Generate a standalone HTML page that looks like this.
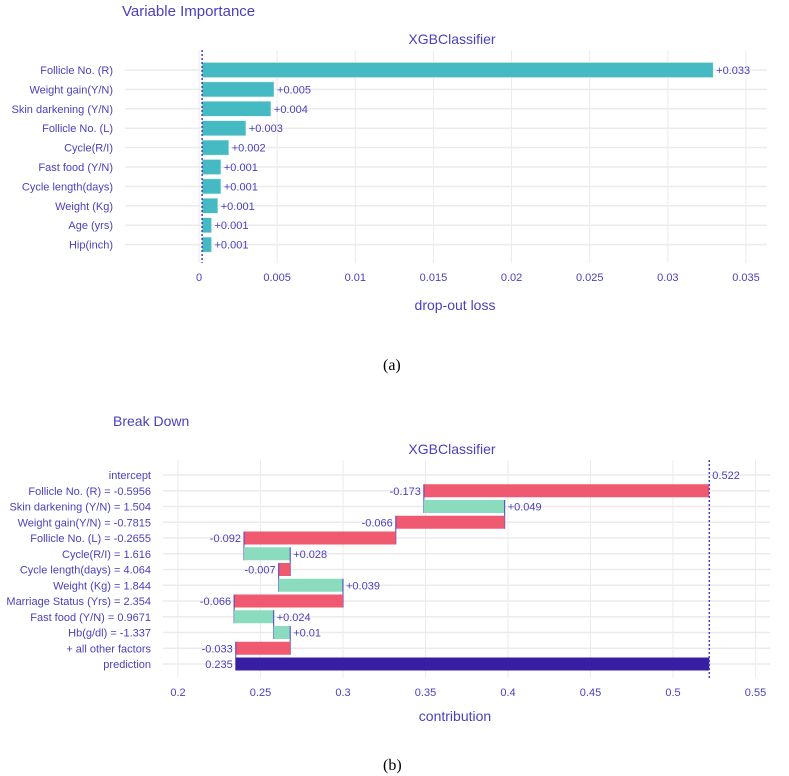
<!DOCTYPE html>
<html><head><meta charset="utf-8">
<style>
html,body{margin:0;padding:0;background:#fff;}
body{width:789px;height:776px;overflow:hidden;position:relative;font-family:"Liberation Sans","DejaVu Sans",sans-serif;}
svg{position:absolute;left:0;top:0;}
.cap{position:absolute;font-family:"Liberation Serif",serif;font-size:16px;color:#000;}
</style></head>
<body>
<svg id="s" width="789" height="776"></svg>
<div class="cap" style="left:383px;top:357px">(a)</div>
<div class="cap" style="left:383px;top:757px">(b)</div>
<script>
// ---- Chart A data ----
const viNames = ["Follicle No. (R)","Weight gain(Y/N)","Skin darkening (Y/N)","Follicle No. (L)","Cycle(R/I)","Fast food (Y/N)","Cycle length(days)","Weight (Kg)","Age (yrs)","Hip(inch)"];
const viBaseline = 0.0002;
const viLoss = [0.0329,0.0048,0.0046,0.0030,0.0019,0.0014,0.0014,0.0012,0.0008,0.0008];
const viLabels = ["+0.033","+0.005","+0.004","+0.003","+0.002","+0.001","+0.001","+0.001","+0.001","+0.001"];
const viTicks = [0,0.005,0.01,0.015,0.02,0.025,0.03,0.035];
const viTickLabels = ["0","0.005","0.01","0.015","0.02","0.025","0.03","0.035"];
// ---- Chart B data ----
const bdNames = ["intercept","Follicle No. (R) = -0.5956","Skin darkening (Y/N) = 1.504","Weight gain(Y/N) = -0.7815","Follicle No. (L) = -0.2655","Cycle(R/I) = 1.616","Cycle length(days) = 4.064","Weight (Kg) = 1.844","Marriage Status (Yrs) = 2.354","Fast food (Y/N) = 0.9671","Hb(g/dl) = -1.337","+ all other factors","prediction"];
const bdIntercept = 0.522;
const bdContrib = [-0.173,0.049,-0.066,-0.092,0.028,-0.007,0.039,-0.066,0.024,0.01,-0.033];
const bdLabels = ["-0.173","+0.049","-0.066","-0.092","+0.028","-0.007","+0.039","-0.066","+0.024","+0.01","-0.033"];
const bdPrediction = 0.235;
const bdTicks = [0.2,0.25,0.3,0.35,0.4,0.45,0.5,0.55];
const bdTickLabels = ["0.2","0.25","0.3","0.35","0.4","0.45","0.5","0.55"];

const svg=document.getElementById('s');
const NS="http://www.w3.org/2000/svg";
const TC="#4a3fbf";
function mk(tag,attrs,parent){const e=document.createElementNS(NS,tag);for(const k in attrs)e.setAttribute(k,attrs[k]);(parent||svg).appendChild(e);return e;}
function txt(x,y,s,size,anchor,fill,parent){const t=mk('text',{x:x,y:y,'font-size':size,'text-anchor':anchor||'start',fill:fill||TC,'font-family':'"Liberation Sans","DejaVu Sans",sans-serif'},parent);t.textContent=s;return t;}

// ===== Chart A =====
const gA=mk('g',{});


const ax=v=>199+v*(547/0.035);
const ay=i=>70+i*19.4;
let t=txt(122,16,"Variable Importance",15,'start',TC,gA);

t=txt(452,44,"XGBClassifier",14,'middle',TC,gA);

viTicks.forEach((v,i)=>{
  const l=mk('line',{x1:ax(v),x2:ax(v),y1:50,y2:263,stroke:'#ebebeb','stroke-width':1},gA);
  
  const tt=txt(ax(v),281,viTickLabels[i],11,'middle',TC,gA);
  
});
viNames.forEach((n,i)=>{
  const l=mk('line',{x1:125,x2:767,y1:ay(i),y2:ay(i),stroke:'#ebebeb','stroke-width':1.5},gA);
  
  const lt=txt(113,ay(i)+4,n,11,'end',TC,gA);
  
  const x0=ax(viBaseline),x1=ax(viLoss[i]);
  const b=mk('rect',{x:x0,y:ay(i)-7.5,width:Math.max(0,x1-x0),height:15,fill:'#46bac2',stroke:'#d0eef0','stroke-width':0.5},gA);
  
  const vt=txt(x1+3,ay(i)+4,viLabels[i],11,'start',TC,gA);
  
});
let dl=mk('line',{x1:ax(viBaseline),x2:ax(viBaseline),y1:50,y2:263,stroke:TC,'stroke-width':1.5,'stroke-dasharray':'2,2'},gA);

t=txt(455,310,"drop-out loss",14,'middle',TC,gA);


// ===== Chart B =====
const gB=mk('g',{});


const bx=v=>178+(v-0.2)*1650;
const by=i=>475+i*15.75;
t=txt(113,426,"Break Down",14,'start',TC,gB);

t=txt(452,454,"XGBClassifier",14,'middle',TC,gB);

bdTicks.forEach((v,i)=>{
  const l=mk('line',{x1:bx(v),x2:bx(v),y1:460,y2:678,stroke:'#ebebeb','stroke-width':1},gB);
  
  const tt=txt(bx(v),696,bdTickLabels[i],11,'middle',TC,gB);
  
});
bdNames.forEach((n,i)=>{
  const l=mk('line',{x1:163,x2:770,y1:by(i),y2:by(i),stroke:'#ebebeb','stroke-width':1.5},gB);
  
  const lt=txt(151,by(i)+4,n,11,'end',TC,gB);
  
});
t=txt(bx(bdIntercept)+3,by(0)+4,bdIntercept.toFixed(3),11,'start',TC,gB);

let cum=bdIntercept;
bdContrib.forEach((c,k)=>{
  const i=k+1;const s=cum,e=cum+c;
  const xa=bx(Math.min(s,e)),xb=bx(Math.max(s,e));
  const r=mk('rect',{x:xa,y:by(i)-6.5,width:xb-xa,height:13,fill:c<0?'#f05a71':'#8bdcbe'},gB);
  
  const cn=mk('line',{x1:bx(e),x2:bx(e),y1:by(i)-6.5,y2:by(i+1)+6.5,stroke:TC,'stroke-width':1},gB);
  
  const vt=c<0?txt(xa-3,by(i)+4,bdLabels[k],11,'end',TC,gB):txt(xb+3,by(i)+4,bdLabels[k],11,'start',TC,gB);
  
  cum=e;
});
const pi=bdNames.length-1;
let pr=mk('rect',{x:bx(bdPrediction),y:by(pi)-6.5,width:bx(bdIntercept)-bx(bdPrediction),height:13,fill:'#371ea3'},gB);

t=txt(bx(bdPrediction)-3,by(pi)+4,bdPrediction.toFixed(3),11,'end',TC,gB);

dl=mk('line',{x1:bx(bdIntercept),x2:bx(bdIntercept),y1:460,y2:678,stroke:TC,'stroke-width':1.5,'stroke-dasharray':'2,2'},gB);

t=txt(455,721,"contribution",14,'middle',TC,gB);

</script>
</body></html>
